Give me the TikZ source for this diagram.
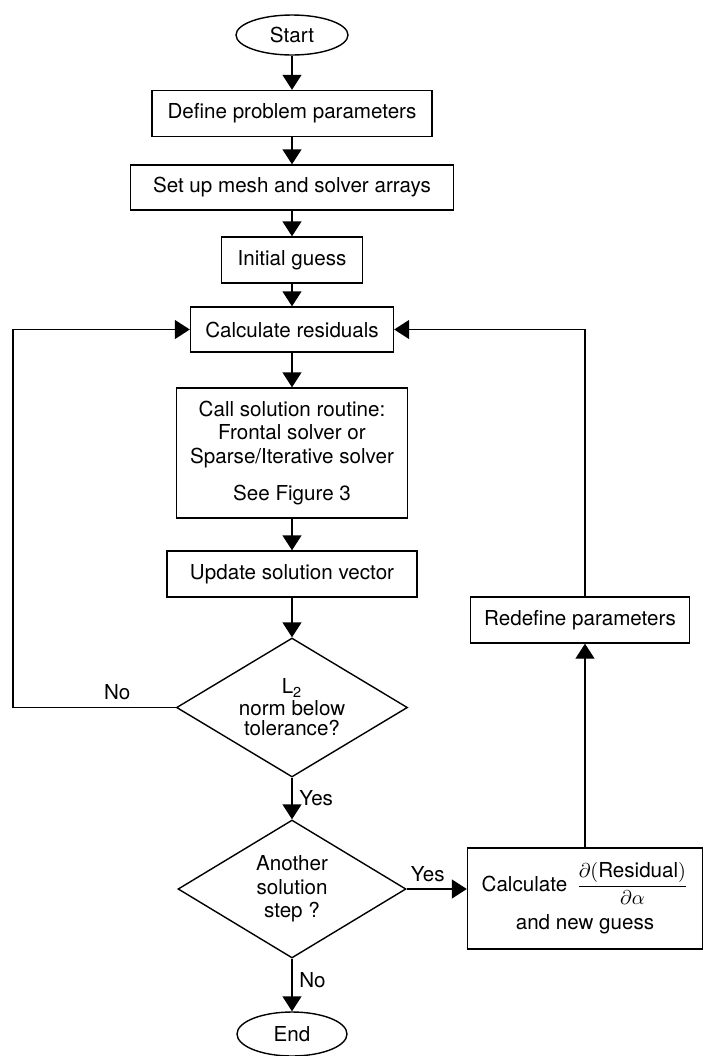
\documentclass[tikz,border=0pt]{standalone}
\usepackage{fontspec}
\setmainfont{TeX Gyre Heros}
\usepackage{tikz}
\usetikzlibrary{shapes.geometric,arrows.meta}
\tikzset{
    terminal/.style={ellipse, draw, line width=0.7pt, minimum width=56pt, minimum height=20pt, inner sep=0pt},
    stepbox/.style={rectangle, draw, line width=0.7pt, minimum height=23pt, inner sep=0pt, align=center},
    decision/.style={diamond, draw, line width=0.7pt, aspect=1.66, inner sep=0pt, align=center},
    flow/.style={-{Triangle[length=7.5pt, width=9.5pt]}, line width=0.7pt},
}

\begin{document}
\begin{tikzpicture}[x=0.5pt, y=-0.5pt, font=\fontsize{10.3}{11.8}\selectfont]
    \useasboundingbox (0,0) rectangle (711,1056);
    \node[terminal] (start) at (292,35) {Start};
    \node[stepbox, minimum width=140pt] (define) at (292,113.5) {Define problem parameters};
    \node[stepbox, minimum width=161.5pt, minimum height=22.5pt] (setup) at (292,187.5) {Set up mesh and solver arrays};
    \node[stepbox, minimum width=70.5pt] (guess) at (292,260) {Initial guess};
    \node[stepbox, minimum width=101.5pt, minimum height=22.5pt] (calcres) at (292,329.5) {Calculate residuals};
    \node[stepbox, minimum width=115.5pt, minimum height=65pt] (solve) at (292,453) {Call solution routine:\\Frontal solver or\\Sparse/Iterative solver\\[7pt]See Figure 3};
    \node[stepbox, minimum width=125pt] (update) at (292,574) {Update solution vector};
    \node[decision, minimum width=115.5pt, minimum height=69.5pt, font=\fontsize{10.3}{10}\selectfont] (norm) at (292,707.5) {L\textsubscript{2}\\[1pt]norm below\\tolerance?};
    \node[decision, minimum width=114pt, minimum height=69pt] (another) at (292,889) {Another\\solution\\step ?};
    \node[terminal, minimum width=55pt, minimum height=22pt] (end) at (292,1034) {End};
    \node[stepbox, minimum width=117.5pt, minimum height=50.5pt] (deriv) at (585,898.5) {Calculate\, $\displaystyle\frac{\partial(\mbox{Residual})}{\partial\alpha}$\\[4pt]and new guess};
    \node[stepbox, minimum width=109.5pt] (redefine) at (580,620) {Redefine parameters};
    \coordinate (loop) at (13,707.5);

    \draw[flow] (start) -- (define);
    \draw[flow] (define) -- (setup);
    \draw[flow] (setup) -- (guess);
    \draw[flow] (guess) -- (calcres);
    \draw[flow] (calcres) -- (solve);
    \draw[flow] (solve) -- (update);
    \draw[flow] (update) -- (norm);
    \draw[flow] (norm.west) -- node[above, pos=0.36] {No} (loop) |- (calcres.west);
    \draw[flow] (norm) -- node[right] {Yes} (another);
    \draw[flow] (another) -- node[right, pos=0.4] {No} (end);
    \draw[flow] (another.east) -- node[above, pos=0.35] {Yes} (another.east -| deriv.west);
    \draw[flow] (deriv.north) -- (deriv.north |- redefine.south);
    \draw[flow] (deriv.north |- redefine.north) |- (calcres.east);
\end{tikzpicture}
\end{document}
